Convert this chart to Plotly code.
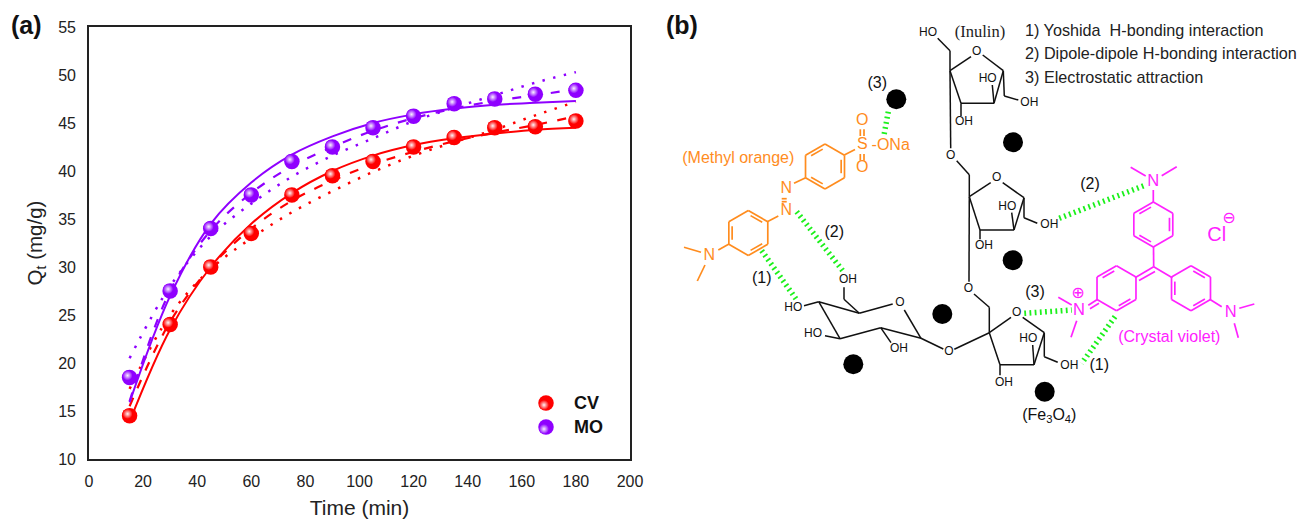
import plotly.graph_objects as go

# ---------- panel (a) data ----------
time_min = [15, 30, 45, 60, 75, 90, 105, 120, 135, 150, 165, 180]
cv_exp = [14.5, 24, 30, 33.5, 37.5, 39.5, 41, 42.5, 43.5, 44.5, 44.6, 45.2]
mo_exp = [18.5, 27.5, 34, 37.5, 41, 42.5, 44.5, 45.7, 47, 47.5, 48, 48.4]
cv_solid = [13.9, 23.5, 30, 34.5, 37.7, 40, 41.6, 42.7, 43.4, 43.9, 44.3, 44.5]
mo_solid = [15.9, 27, 34.5, 38.8, 41.7, 43.6, 45, 45.9, 46.5, 46.9, 47.1, 47.3]
cv_dash = [15.5, 24.3, 30, 34, 36.9, 39, 40.7, 42, 43.1, 44, 44.8, 45.7]
mo_dash = [16, 27.5, 33.8, 37.7, 40.5, 42.5, 44.2, 45.5, 46.5, 47.3, 47.9, 48.5]
cv_dot = [17.3, 25, 29.8, 33, 35.7, 37.9, 39.9, 41.6, 43, 44.3, 45.8, 47.2]
mo_dot = [20.5, 28, 33.2, 36.6, 39.4, 41.6, 43.4, 45.2, 46.6, 47.9, 49.2, 50.3]
x_ticks = list(range(0, 201, 20))
y_ticks = list(range(10, 56, 5))

RED, PURPLE = "#ff0000", "#8f00ff"
RED_HI, PURPLE_HI = "#fff4f6", "#f8f2ff"
SANS = "Liberation Sans, Arial, sans-serif"
W, H = 1300, 519
L, R, T, B = 89, 630, 27, 459

fig = go.Figure()


def curve(x, y, color, dash, width, name):
    fig.add_trace(go.Scatter(x=x, y=y, mode="lines", name=name, showlegend=False,
                             line=dict(color=color, dash=dash, width=width, shape="spline", smoothing=1.0)))


for vals, col, nm in ((cv_dot, RED, "CV dotted fit"), (mo_dot, PURPLE, "MO dotted fit")):
    curve(time_min, vals, col, "2.5px,8.5px", 2.5, nm)
for vals, col, nm in ((cv_dash, RED, "CV dashed fit"), (mo_dash, PURPLE, "MO dashed fit")):
    curve(time_min, vals, col, "9px,10.5px", 2.2, nm)
for vals, col, nm in ((cv_solid, RED, "CV solid fit"), (mo_solid, PURPLE, "MO solid fit")):
    curve(time_min, vals, col, "solid", 2, nm)

HI_DX, HI_DY = 0.75, 0.2  # shift of the sphere highlight in axis units


def spheres(x, y, color, hi, name, xa="x", ya="y", dx=HI_DX, dy=HI_DY):
    fig.add_trace(go.Scatter(x=x, y=y, mode="markers", name=name, xaxis=xa, yaxis=ya, showlegend=False,
                             marker=dict(size=15.5, color=color, line=dict(width=0))))
    fig.add_trace(go.Scatter(x=[v - dx for v in x], y=[v + dy for v in y], mode="markers", name=name + " shine",
                             xaxis=xa, yaxis=ya, showlegend=False, hoverinfo="skip",
                             marker=dict(size=10, color=color, line=dict(width=0),
                                         gradient=dict(type="radial", color=hi))))


spheres(time_min, cv_exp, RED, RED_HI, "CV")
spheres(time_min, mo_exp, PURPLE, PURPLE_HI, "MO")

# ---------- diagram, panel (b), in page pixels on an overlay axis ----------
BLACK_BONDS = [
    (937.7, 38.3, 950, 50.7), (950, 50.7, 950, 70.7), (950, 70.7, 971, 56.7), (982.7, 55, 1003.3, 70.7),
    (1003.3, 70.7, 994, 103.3), (994, 103.3, 961, 103.3), (961, 103.3, 950, 70.7), (994, 103.3, 992.3, 85),
    (961, 103.3, 961, 116), (1003.3, 70.7, 1004.3, 96), (1004.3, 96, 1018.3, 100), (950, 70.7, 950.7, 148.3),
    (956.7, 160.7, 969.3, 174.7), (969.3, 174.7, 969.3, 196.7), (969.3, 196.7, 990.7, 182.7),
    (1002.7, 182.7, 1024, 197.7), (1024, 197.7, 1014, 230), (1014, 230, 980, 230), (980, 230, 969.3, 196.7),
    (1014, 230, 1011.7, 212.7), (980, 230, 980, 239.3), (1024, 197.7, 1024, 217.7), (1024, 217.7, 1037.3, 223.3),
    (969.3, 196.7, 969, 281.7), (974, 294, 989.3, 307.3), (989.3, 307.3, 989.3, 332.7), (989.3, 332.7, 1011, 317.3),
    (1022.7, 317.3, 1044.3, 332.7), (1044.3, 332.7, 1034, 364.7), (1034, 364.7, 1000, 364.7),
    (1000, 364.7, 989.3, 332.7), (1034, 364.7, 1032.7, 345), (1000, 364.7, 1000, 375.3),
    (1044.3, 332.7, 1044.3, 356.7), (1044.3, 356.7, 1057.7, 362.3), (989.3, 332.7, 954.3, 349.3),
    (943.3, 349, 921, 338.3), (921, 338.3, 904.3, 310), (892.7, 304, 859.3, 313.3), (859.3, 313.3, 818.7, 301.7),
    (818.7, 301.7, 840, 338.7), (840, 338.7, 880.7, 327.7), (880.7, 327.7, 921, 338.3), (859.3, 313.3, 844, 299.3),
    (844, 299.3, 844, 287.3), (818.7, 301.7, 804, 305.7), (840, 338.7, 825, 335.7), (880.7, 327.7, 891, 342.7),
]
ORANGE_BONDS = [
    (844.3, 155, 855, 149.5), (860.3, 129.3, 860.3, 136), (864, 129.3, 864, 136), (860.3, 154, 860.3, 160.7),
    (864, 154, 864, 160.7), (781.7, 198.7, 786.7, 198.7), (781.7, 201.7, 786.7, 201.7),
    (805.7, 177.7, 794, 183.3), (767.3, 221.7, 778.3, 216), (718.3, 250, 729, 244),
    (684, 247.3, 701, 252.3), (697.3, 281, 705, 265),
]
MAGENTA_BONDS = [
    (1130.7, 167.3, 1145.7, 176), (1176.7, 166.7, 1161.7, 175.7), (1153.3, 190, 1153.3, 202),
    (1153.5, 247, 1153.7, 266.7), (1153.7, 266.7, 1172.3, 277.7), (1153.7, 266.7, 1135, 277.7),
    (1155, 271.5, 1139, 280.5), (1209.7, 299.3, 1221.7, 306.7), (1239.3, 308.3, 1254.3, 304),
    (1234.3, 323.3, 1238.3, 337.7), (1097.7, 299.3, 1088.3, 305.3), (1099, 303.3, 1090, 308.7),
    (1058.3, 297.3, 1071.7, 305), (1076.7, 320.7, 1071, 337.3),
]
GREEN_HATCH = [
    (888.3, 111.7, 884, 135), (796.7, 211.7, 842.7, 270.7), (761.7, 250.7, 797.3, 300.7),
    (1059.3, 218.3, 1145.7, 185), (1024.3, 313.3, 1071.7, 310), (1115, 316.7, 1081.7, 363.3),
]
# rings: centre x, centre y, sides that carry an inner double-bond line
ORANGE_RINGS = [(825, 166.5, (5, 1, 3)), (748.3, 233, (4, 0, 2))]
MAGENTA_RINGS = [(1153.3, 224.5, (5, 1, 3)), (1191, 288.3, (0, 4, 2)), (1116.5, 288.3, (5, 2))]
FE3O4_X = [896.3, 1013, 1012.7, 942.3, 853.3, 1044.7]
FE3O4_Y = [99.3, 142.3, 260.3, 314, 364.3, 391.7]


def ring_segments(cx, cy, doubles, r=22.5):
    rx = r * 0.866
    v = [(cx, cy - r), (cx + rx, cy - r / 2), (cx + rx, cy + r / 2),
         (cx, cy + r), (cx - rx, cy + r / 2), (cx - rx, cy - r / 2)]
    segs = []
    for i in range(6):
        a, b = v[i], v[(i + 1) % 6]
        segs.append((a[0], a[1], b[0], b[1]))
        if i in doubles:
            k = 0.83
            ax, bx = (a[0] - cx) * k + cx, (b[0] - cx) * k + cx
            ay, by = (a[1] - cy) * k + cy, (b[1] - cy) * k + cy
            s = 0.14
            segs.append((ax + (bx - ax) * s, ay + (by - ay) * s, bx - (bx - ax) * s, by - (by - ay) * s))
    return segs


def xy_of(segs):
    xs, ys = [], []
    for x1, y1, x2, y2 in segs:
        xs += [x1, x2, None]
        ys += [y1, y2, None]
    return xs, ys


def bonds(segs, color, width, name, dash="solid"):
    xs, ys = xy_of(segs)
    fig.add_trace(go.Scatter(x=xs, y=ys, mode="lines", xaxis="x2", yaxis="y2", name=name, showlegend=False,
                             hoverinfo="skip", line=dict(color=color, width=width, dash=dash)))


def labels(items, color, size, family=SANS, name="labels"):
    fig.add_trace(go.Scatter(x=[i[0] for i in items], y=[i[1] for i in items], text=[i[2] for i in items],
                             mode="text", textposition="middle center", xaxis="x2", yaxis="y2", name=name,
                             showlegend=False, hoverinfo="skip", textfont=dict(color=color, size=size, family=family)))


ORANGE, MAGENTA, GREEN = "#ff8c1e", "#ff22ff", "#1cf01c"
bonds(GREEN_HATCH, GREEN, 5.5, "hatched interactions", dash="1.8px,3.4px")
bonds(BLACK_BONDS, "#111111", 1.5, "inulin bonds")
o_segs = list(ORANGE_BONDS)
for ring in ORANGE_RINGS:
    o_segs += ring_segments(*ring)
bonds(o_segs, ORANGE, 1.7, "methyl orange bonds")
m_segs = list(MAGENTA_BONDS)
for ring in MAGENTA_RINGS:
    m_segs += ring_segments(*ring)
bonds(m_segs, MAGENTA, 1.7, "crystal violet bonds")

fig.add_trace(go.Scatter(x=FE3O4_X, y=FE3O4_Y, mode="markers", xaxis="x2", yaxis="y2", name="Fe3O4",
                         showlegend=False, marker=dict(size=20, color="#000000", line=dict(width=0))))

ATOMS_BLACK = [
    (928, 33.3, "HO"), (976.7, 51.7, "O"), (987.7, 79, "HO"), (964, 122.3, "OH"), (1029.3, 102.7, "OH"),
    (950.7, 155.7, "O"), (996.7, 178.3, "O"), (1007.3, 207.3, "HO"), (984, 245.7, "OH"), (1049.3, 225.3, "OH"),
    (968.3, 289, "O"), (1016.7, 313.3, "O"), (1028.3, 339, "HO"), (1004, 383.3, "OH"), (1069.3, 366.3, "OH"),
    (949, 352.3, "O"), (900, 302.7, "O"), (848, 280, "OH"), (793.3, 308, "HO"), (813, 334.3, "HO"), (899, 349.3, "OH"),
]
labels(ATOMS_BLACK, "#111111", 12, name="inulin atoms")
NOTES = [
    (877.3, 84, "(3)"), (834.3, 232.7, "(2)"), (761.7, 279.3, "(1)"), (1035, 293.3, "(3)"),
    (1099.3, 366, "(1)"), (1090, 185.3, "(2)"), (1049.3, 416, "(Fe<sub>3</sub>O<sub>4</sub>)"),
]
labels(NOTES, "#111111", 16, name="interaction notes")
labels([(980, 33.3, "(Inulin)")], "#222222", 16.5, family="Liberation Serif, serif", name="inulin label")
labels([(786.3, 189.3, "N"), (786.3, 211.3, "N"), (709.3, 255.7, "N"), (862.3, 120.7, "O"), (862.3, 168.3, "O"),
        (862.3, 145, "S"), (890.7, 145.7, "-ONa")], ORANGE, 16, name="methyl orange atoms")
labels([(738.3, 159.3, "(Methyl orange)")], ORANGE, 16, name="methyl orange label")
labels([(1153.3, 182.3, "N"), (1230.7, 313.3, "N"), (1079, 310.7, "N")], MAGENTA, 16.5, name="crystal violet atoms")
labels([(1216.7, 236, "Cl")], MAGENTA, 20, name="chloride")
labels([(1078, 294, "⊕"), (1229, 219.3, "⊖")], MAGENTA, 16, family="DejaVu Sans", name="charges")
labels([(1169.3, 337.7, "(Crystal violet)")], MAGENTA, 16, name="crystal violet label")

# legend of panel (a)
LEG_X = [546, 546]
LEG_Y = [403, 427]
spheres(LEG_X[:1], LEG_Y[:1], RED, RED_HI, "CV legend", "x2", "y2", dx=2, dy=2)
spheres(LEG_X[1:], LEG_Y[1:], PURPLE, PURPLE_HI, "MO legend", "x2", "y2", dx=2, dy=2)

ann = dict(xref="paper", yref="paper", showarrow=False, xanchor="left", yanchor="middle")
KEY_LINES = ["1) Yoshida  H-bonding interaction", "2) Dipole-dipole H-bonding interaction", "3) Electrostatic attraction"]
KEY_Y = [30, 53.5, 76.5]
annotations = [dict(x=1022.8 / W, y=1 - py / H, text=t, font=dict(size=16.2, color="#222222", family=SANS), **ann)
               for t, py in zip(KEY_LINES, KEY_Y)]
annotations += [
    dict(x=572 / W, y=1 - 403 / H, text="<b>CV</b>", font=dict(size=18, color="#111111", family=SANS), **ann),
    dict(x=572 / W, y=1 - 427 / H, text="<b>MO</b>", font=dict(size=18, color="#111111", family=SANS), **ann),
    dict(x=9 / W, y=1 - 25 / H, text="<b>(a)</b>", font=dict(size=25, color="#111111", family=SANS), **ann),
    dict(x=664 / W, y=1 - 25 / H, text="<b>(b)</b>", font=dict(size=25, color="#111111", family=SANS), **ann),
]

axis_font = dict(size=16, color="#222222", family=SANS)
x_hidden_tick = dict(ticks="outside", ticklen=7, tickcolor="rgba(0,0,0,0)", tickwidth=1)
y_hidden_tick = dict(ticks="outside", ticklen=8, tickcolor="rgba(0,0,0,0)", tickwidth=1)
fig.update_layout(
    width=W, height=H, autosize=False, margin=dict(l=0, r=0, t=0, b=0, autoexpand=False),
    paper_bgcolor="white", plot_bgcolor="rgba(0,0,0,0)", showlegend=False, annotations=annotations,
    xaxis=dict(domain=[L / W, R / W], range=[0, 200], tickvals=x_ticks, showgrid=False, zeroline=False,
               showline=True, mirror=True, linewidth=1.6, linecolor="#222222", tickfont=axis_font,
               automargin=False, **x_hidden_tick,
               title=dict(text="Time (min)", font=dict(size=21, color="#222222", family=SANS), standoff=18)),
    yaxis=dict(domain=[1 - B / H, 1 - T / H], range=[10, 55], tickvals=y_ticks, showgrid=False, zeroline=False,
               showline=True, mirror=True, linewidth=1.6, linecolor="#222222", tickfont=axis_font,
               automargin=False, **y_hidden_tick,
               title=dict(text="Q<sub>t</sub> (mg/g)", font=dict(size=20.5, color="#222222", family=SANS), standoff=10)),
    xaxis2=dict(domain=[0, 1], range=[0, W], visible=False, anchor="y2", fixedrange=True, automargin=False),
    yaxis2=dict(domain=[0, 1], range=[H, 0], visible=False, anchor="x2", fixedrange=True, automargin=False),
)

fig.write_html("out.html", config=dict(displayModeBar=False), post_script="document.body.style.margin='0';")
